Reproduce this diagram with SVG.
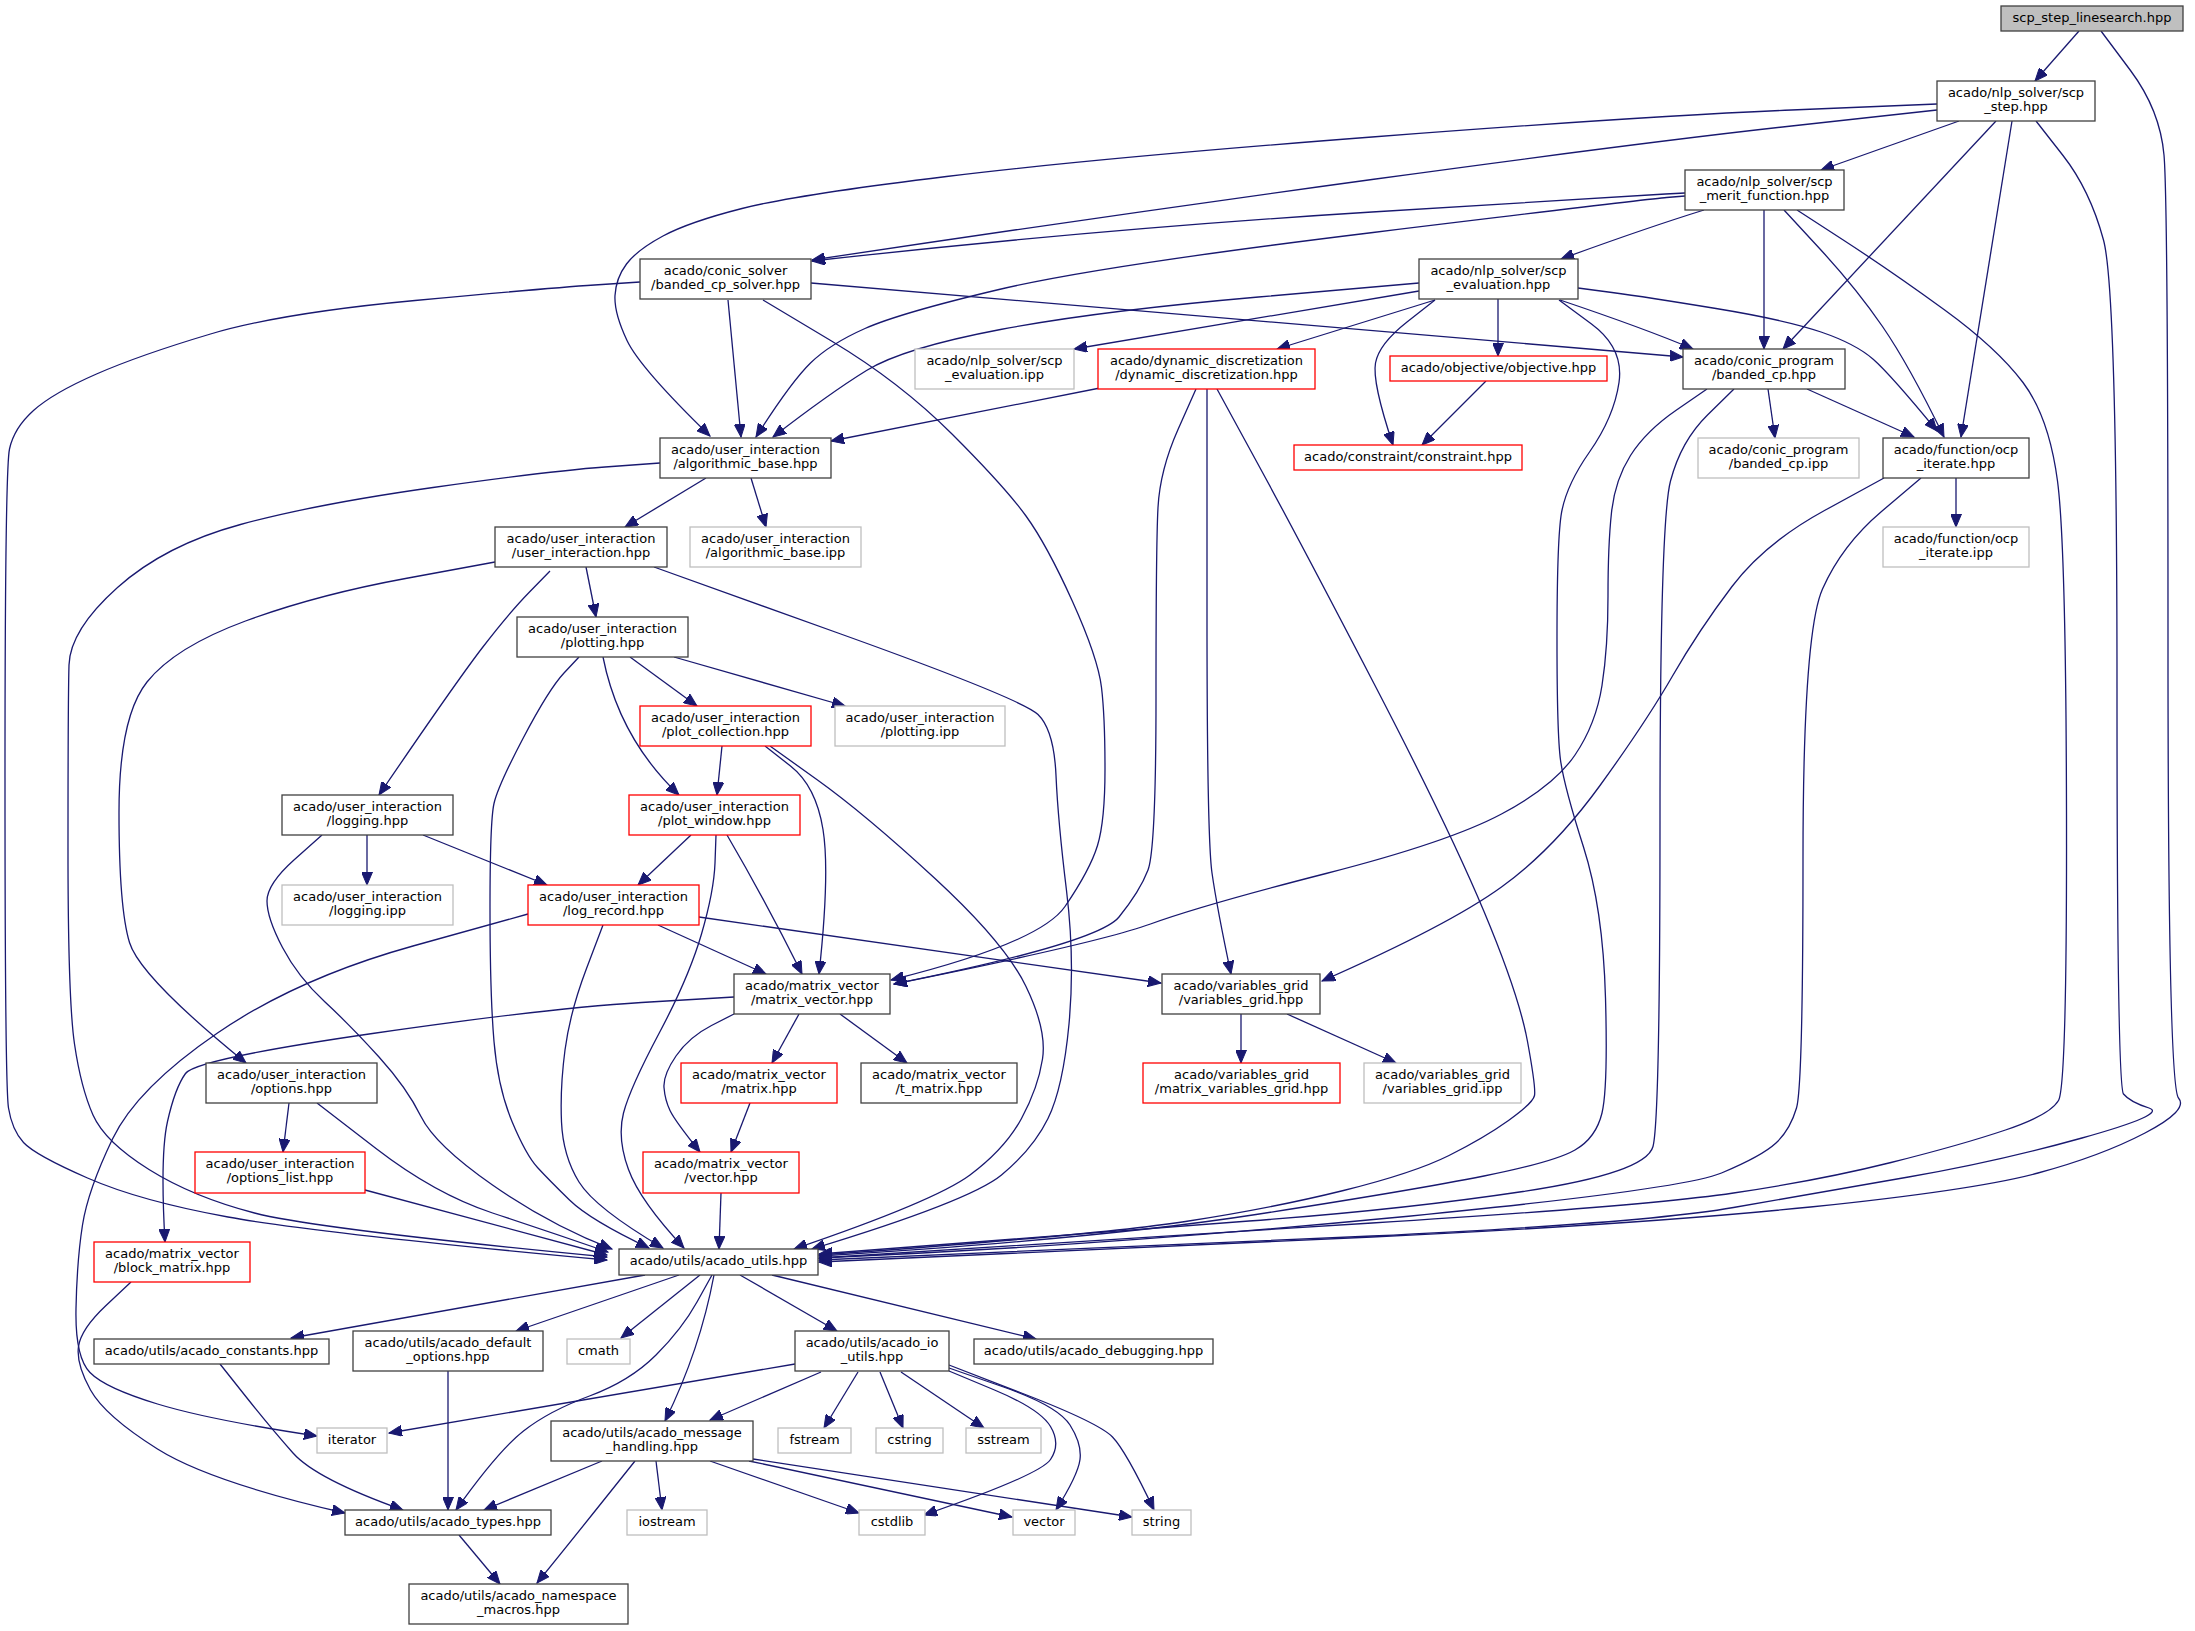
<svg xmlns="http://www.w3.org/2000/svg" width="2195" height="1631" viewBox="0 0 2195 1631">
<style>
.n rect{fill:#fff;stroke:#404040;stroke-width:1.3}
.n.r rect{stroke:#f00}
.n.g rect{stroke:#bfbfbf}
.n.root rect{fill:#bfbfbf;stroke:#404040}
text{font-family:"DejaVu Sans","Liberation Sans",sans-serif;font-size:13px;text-anchor:middle;fill:#000}
#edges path{fill:none;stroke:#191970;stroke-width:1.3;marker-end:url(#a)}
</style>
<defs>
<marker id="a" markerWidth="14" markerHeight="11" refX="13" refY="5.5" orient="auto" markerUnits="userSpaceOnUse"><path d="M0,0 L13,5.5 L0,11 z" fill="#191970" stroke="#191970" stroke-width="1"/></marker>
</defs>
<rect width="2195" height="1631" fill="#fff"/>
<g id="edges">
<path d="M2079,31 L2035,81"/>
<path d="M2101,31 L2130.5,70.5 Q2160,110 2164,155 Q2168,200 2168,643 Q2168,1086 2178.5,1098 Q2189,1110 2145,1133 Q2101,1156 2038,1173 Q1975,1190 1810.5,1207 Q1646,1224 1372,1237 Q1098,1250 819,1262"/>
<path d="M1959,121 L1821,170"/>
<path d="M1937,110 L1791.5,126 Q1646,142 1372,179.5 Q1098,217 812,260"/>
<path d="M1937,104 L1791.5,110 Q1646,116 1372,137 Q1098,158 946.5,176.5 Q795,195 742,208.5 Q689,222 663,236 Q637,250 626.5,264 Q616,278 615,295.5 Q614,313 627,340.5 Q640,368 710,436"/>
<path d="M1996,121 L1783,349"/>
<path d="M2012,121 L1961,437"/>
<path d="M2036,121 L2063,155.5 Q2090,190 2103.5,240 Q2117,290 2117,688 Q2117,1086 2123.5,1094 Q2130,1102 2149,1108 Q2168,1114 2082,1138 Q1996,1162 1908.5,1177 Q1821,1192 1733.5,1207.5 Q1646,1223 1372,1236 Q1098,1249 819,1260"/>
<path d="M1685,193 L1665.5,194 Q1646,195 1372,212 Q1098,229 812,261"/>
<path d="M1704,210 Q1646,228 1561,259"/>
<path d="M1685,196 L1666.5,197.5 Q1648,199 1373,232.5 Q1098,266 999,289.5 Q900,313 865,328.5 Q830,344 810.5,363 Q791,382 756,437"/>
<path d="M1764,210 L1764,349"/>
<path d="M1784,210 L1820,249 Q1856,288 1882.5,326.5 Q1909,365 1944,437"/>
<path d="M1797,210 L1844,240.5 Q1891,271 1944,309.5 Q1997,348 2023,382.5 Q2049,417 2057.5,481 Q2066,545 2066.5,815.5 Q2067,1086 2058.5,1100.5 Q2050,1115 2005.5,1130 Q1961,1145 1891,1162.5 Q1821,1180 1733.5,1193 Q1646,1206 1372,1223 Q1098,1240 819,1258"/>
<path d="M728,300 L741,437"/>
<path d="M811,283 L1683,357"/>
<path d="M763,300 L831.5,341 Q900,382 952.5,434.5 Q1005,487 1026,516 Q1047,545 1072.5,601.5 Q1098,658 1101.5,687.5 Q1105,717 1105,769 Q1105,821 1097.5,845.5 Q1090,870 1065,906.5 Q1040,943 891,980"/>
<path d="M640,282 L594.5,285 Q549,288 415,300.5 Q281,313 210.5,334 Q140,355 96.5,374 Q53,393 33.5,410.5 Q14,428 9.5,449 Q5,470 5,778 Q5,1086 8.5,1108 Q12,1130 23.5,1142.5 Q35,1155 87.5,1178 Q140,1201 228,1217 Q316,1233 607,1260"/>
<path d="M1419,291 L1074,349"/>
<path d="M1435,300 L1277,349"/>
<path d="M1435,300 L1407,322 Q1379,344 1375.5,363 Q1372,382 1393,445"/>
<path d="M1498,299 L1498,356"/>
<path d="M1560,300 Q1646,329 1693,349"/>
<path d="M1578,288 L1612,292.5 Q1646,297 1716,308.5 Q1786,320 1821,332 Q1856,344 1873.5,359.5 Q1891,375 1937,431"/>
<path d="M1419,283 L1258.5,297 Q1098,311 1000.5,329.5 Q903,348 866.5,370.5 Q830,393 773,437"/>
<path d="M1559,300 L1591.5,324 Q1624,348 1619,382.5 Q1614,417 1589.5,452 Q1565,487 1561,516 Q1557,545 1557,639.5 Q1557,734 1560.5,760 Q1564,786 1583.5,847 Q1603,908 1605.5,998 Q1608,1088 1602,1113 Q1596,1138 1575,1150 Q1554,1162 1484,1176 Q1414,1190 1256,1214.5 Q1098,1239 819,1256"/>
<path d="M1100,388 L831,441"/>
<path d="M1196,389 L1178,429.5 Q1160,470 1158,507.5 Q1156,545 1156,697 Q1156,849 1148,870 Q1140,891 1119,917 Q1098,943 894,984"/>
<path d="M1207,389 L1207,613.5 Q1207,838 1212,873 Q1217,908 1231,974"/>
<path d="M1217,389 L1259,466 Q1301,543 1375,685.5 Q1449,828 1484,911.5 Q1519,995 1527.5,1041.5 Q1536,1088 1534.5,1095.5 Q1533,1103 1508.5,1120.5 Q1484,1138 1449,1155.5 Q1414,1173 1343.5,1190.5 Q1273,1208 1185.5,1221.5 Q1098,1235 819,1255"/>
<path d="M1486,381 L1422,445"/>
<path d="M1768,389 L1775,438"/>
<path d="M1807,389 L1914,437"/>
<path d="M1707,389 L1676.5,410 Q1646,431 1630.5,455.5 Q1615,480 1611.5,512.5 Q1608,545 1608,596 Q1608,647 1602,685.5 Q1596,724 1575,755 Q1554,786 1501.5,814 Q1449,842 1326,873.5 Q1203,905 1150.5,924 Q1098,943 894,984"/>
<path d="M1734,389 L1707.5,415 Q1681,441 1670.5,481 Q1660,521 1660,820.5 Q1660,1120 1653,1146.5 Q1646,1173 1523,1191.5 Q1400,1210 1249,1221 Q1098,1232 819,1254"/>
<path d="M1956,478 L1956,527"/>
<path d="M1884,478 L1824.5,510.5 Q1765,543 1732,586.5 Q1699,630 1672.5,676 Q1646,722 1600,785.5 Q1554,849 1501.5,887 Q1449,925 1322,981"/>
<path d="M1921,478 L1881.5,511.5 Q1842,545 1822.5,589 Q1803,633 1803,859.5 Q1803,1086 1796.5,1108 Q1790,1130 1776,1143 Q1762,1156 1721.5,1173 Q1681,1190 1389.5,1218 Q1098,1246 819,1258"/>
<path d="M706,478 L625,527"/>
<path d="M751,478 L766,527"/>
<path d="M660,463 L605,467 Q550,471 433,487.5 Q316,504 240.5,524.5 Q165,545 117.5,587.5 Q70,630 69,665 Q68,700 68,850 Q68,1000 74.5,1044 Q81,1088 93,1115 Q105,1142 149,1169.5 Q193,1197 254.5,1213 Q316,1229 607,1257"/>
<path d="M586,567 L596,617"/>
<path d="M550,571 L529.5,592 Q509,613 482.5,647.5 Q456,682 379,795"/>
<path d="M495,562 L405.5,578.5 Q316,595 245.5,621 Q175,647 147,682 Q119,717 119,812.5 Q119,908 129.5,942.5 Q140,977 246,1063"/>
<path d="M654,567 L838,633 Q1022,699 1038,714.5 Q1054,730 1056,775.5 Q1058,821 1066.5,890.5 Q1075,960 1069,1024 Q1063,1088 1048,1118.5 Q1033,1149 1001.5,1175 Q970,1201 812,1249"/>
<path d="M630,657 L697,706"/>
<path d="M674,657 L845,706"/>
<path d="M603,657 Q619,738 679,795"/>
<path d="M579,657 L564,673 Q549,689 523.5,737.5 Q498,786 494,803.5 Q490,821 490,908 Q490,995 494,1041.5 Q498,1088 512,1121.5 Q526,1155 537.5,1167.5 Q549,1180 569.5,1200 Q590,1220 649,1248"/>
<path d="M722,746 L717,795"/>
<path d="M765,746 L790.5,766 Q816,786 823,829.5 Q830,873 819,974"/>
<path d="M770,746 L817.5,780 Q865,814 935,878.5 Q1005,943 1026,986.5 Q1047,1030 1042.5,1059 Q1038,1088 1021.5,1118.5 Q1005,1149 970,1175 Q935,1201 794,1249"/>
<path d="M367,835 L367,885"/>
<path d="M423,835 L547,885"/>
<path d="M322,835 L294.5,859.5 Q267,884 267,901 Q267,918 282.5,947.5 Q298,977 324.5,1001.5 Q351,1026 379,1057 Q407,1088 421,1116.5 Q435,1145 492.5,1185 Q550,1225 612,1249"/>
<path d="M691,835 L638,885"/>
<path d="M727,835 Q765,900 802,974"/>
<path d="M716,835 L715,863 Q714,891 701.5,934 Q689,977 659.5,1032.5 Q630,1088 623.5,1113 Q617,1138 628.5,1169.5 Q640,1201 684,1248"/>
<path d="M658,925 L766,974"/>
<path d="M699,917 L1161,983"/>
<path d="M603,925 L586.5,968.5 Q570,1012 565,1050 Q560,1088 561.5,1122 Q563,1156 579,1182 Q595,1208 663,1248"/>
<path d="M528,914 L413,946 Q298,978 217.5,1033 Q137,1088 112.5,1139 Q88,1190 82.5,1225 Q77,1260 76,1308.5 Q75,1357 90,1372.5 Q105,1388 157.5,1404 Q210,1420 317,1436"/>
<path d="M799,1014 L772,1063"/>
<path d="M840,1014 L907,1063"/>
<path d="M734,1014 L711.5,1025.5 Q689,1037 676,1056 Q663,1075 664,1087.5 Q665,1100 670,1110.5 Q675,1121 700,1152"/>
<path d="M734,997 L641.5,1002.5 Q549,1008 372.5,1033.5 Q196,1059 185.5,1073.5 Q175,1088 167.5,1121.5 Q160,1155 165,1242"/>
<path d="M1241,1014 L1241,1063"/>
<path d="M1287,1014 L1396,1063"/>
<path d="M289,1103 L283,1152"/>
<path d="M317,1103 L376,1148.5 Q435,1194 492.5,1213 Q550,1232 608,1252"/>
<path d="M750,1103 L731,1152"/>
<path d="M365,1190 L607,1255"/>
<path d="M721,1193 L719,1249"/>
<path d="M131,1282 L106,1305.5 Q81,1329 78.5,1346.5 Q76,1364 90.5,1390 Q105,1416 157.5,1449 Q210,1482 345,1513"/>
<path d="M645,1275 L291,1338"/>
<path d="M679,1275 L516,1331"/>
<path d="M700,1275 L621,1338"/>
<path d="M714,1275 Q700,1350 665,1421"/>
<path d="M712,1275 L697,1302 Q682,1329 656,1355 Q630,1381 589.5,1396 Q549,1411 523.5,1431 Q498,1451 456,1510"/>
<path d="M740,1275 L837,1331"/>
<path d="M772,1275 L1036,1339"/>
<path d="M220,1364 L245,1395.5 Q270,1427 293,1453 Q316,1479 403,1510"/>
<path d="M448,1371 L448,1510"/>
<path d="M795,1364 L389,1433"/>
<path d="M821,1372 L710,1420"/>
<path d="M858,1372 L824,1428"/>
<path d="M880,1372 L903,1428"/>
<path d="M901,1372 L984,1428"/>
<path d="M949,1371 L994.5,1390 Q1040,1409 1050.5,1426.5 Q1061,1444 1050.5,1459.5 Q1040,1475 924,1515"/>
<path d="M949,1368 L1003.5,1387 Q1058,1406 1070,1425 Q1082,1444 1080,1459.5 Q1078,1475 1056,1510"/>
<path d="M949,1365 L1024,1394 Q1099,1423 1112.5,1437 Q1126,1451 1154,1510"/>
<path d="M602,1461 L484,1510"/>
<path d="M635,1461 Q560,1555 537,1583"/>
<path d="M656,1461 L662,1510"/>
<path d="M710,1461 L859,1513"/>
<path d="M749,1461 L1012,1517"/>
<path d="M753,1459 L1132,1517"/>
<path d="M459,1535 L500,1584"/>
</g>
<g id="n1" class="n root"><rect x="2001" y="6" width="182" height="25"/><text x="2092" y="21.5">scp_step_linesearch.hpp</text></g>
<g id="n2" class="n"><rect x="1937" y="81" width="158" height="40"/><text x="2016" y="96.5">acado/nlp_solver/scp</text><text x="2016" y="110.5">_step.hpp</text></g>
<g id="n3" class="n"><rect x="1685" y="170" width="159" height="40"/><text x="1764.5" y="185.5">acado/nlp_solver/scp</text><text x="1764.5" y="199.5">_merit_function.hpp</text></g>
<g id="n4" class="n"><rect x="640" y="259" width="171" height="40"/><text x="725.5" y="274.5">acado/conic_solver</text><text x="725.5" y="288.5">/banded_cp_solver.hpp</text></g>
<g id="n5" class="n"><rect x="1419" y="259" width="159" height="40"/><text x="1498.5" y="274.5">acado/nlp_solver/scp</text><text x="1498.5" y="288.5">_evaluation.hpp</text></g>
<g id="n6" class="n g"><rect x="915" y="349" width="159" height="40"/><text x="994.5" y="364.5">acado/nlp_solver/scp</text><text x="994.5" y="378.5">_evaluation.ipp</text></g>
<g id="n7" class="n r"><rect x="1098" y="349" width="217" height="40"/><text x="1206.5" y="364.5">acado/dynamic_discretization</text><text x="1206.5" y="378.5">/dynamic_discretization.hpp</text></g>
<g id="n8" class="n r"><rect x="1390" y="356" width="217" height="25"/><text x="1498.5" y="371.5">acado/objective/objective.hpp</text></g>
<g id="n9" class="n"><rect x="1683" y="349" width="162" height="40"/><text x="1764" y="364.5">acado/conic_program</text><text x="1764" y="378.5">/banded_cp.hpp</text></g>
<g id="n10" class="n"><rect x="660" y="438" width="171" height="40"/><text x="745.5" y="453.5">acado/user_interaction</text><text x="745.5" y="467.5">/algorithmic_base.hpp</text></g>
<g id="n11" class="n r"><rect x="1294" y="445" width="228" height="25"/><text x="1408" y="460.5">acado/constraint/constraint.hpp</text></g>
<g id="n12" class="n g"><rect x="1698" y="438" width="161" height="40"/><text x="1778.5" y="453.5">acado/conic_program</text><text x="1778.5" y="467.5">/banded_cp.ipp</text></g>
<g id="n13" class="n"><rect x="1883" y="438" width="146" height="40"/><text x="1956" y="453.5">acado/function/ocp</text><text x="1956" y="467.5">_iterate.hpp</text></g>
<g id="n14" class="n"><rect x="495" y="527" width="172" height="40"/><text x="581" y="542.5">acado/user_interaction</text><text x="581" y="556.5">/user_interaction.hpp</text></g>
<g id="n15" class="n g"><rect x="690" y="527" width="171" height="40"/><text x="775.5" y="542.5">acado/user_interaction</text><text x="775.5" y="556.5">/algorithmic_base.ipp</text></g>
<g id="n16" class="n g"><rect x="1883" y="527" width="146" height="40"/><text x="1956" y="542.5">acado/function/ocp</text><text x="1956" y="556.5">_iterate.ipp</text></g>
<g id="n17" class="n"><rect x="517" y="617" width="171" height="40"/><text x="602.5" y="632.5">acado/user_interaction</text><text x="602.5" y="646.5">/plotting.hpp</text></g>
<g id="n18" class="n r"><rect x="640" y="706" width="171" height="40"/><text x="725.5" y="721.5">acado/user_interaction</text><text x="725.5" y="735.5">/plot_collection.hpp</text></g>
<g id="n19" class="n g"><rect x="835" y="706" width="170" height="40"/><text x="920" y="721.5">acado/user_interaction</text><text x="920" y="735.5">/plotting.ipp</text></g>
<g id="n20" class="n"><rect x="282" y="795" width="171" height="40"/><text x="367.5" y="810.5">acado/user_interaction</text><text x="367.5" y="824.5">/logging.hpp</text></g>
<g id="n21" class="n r"><rect x="629" y="795" width="171" height="40"/><text x="714.5" y="810.5">acado/user_interaction</text><text x="714.5" y="824.5">/plot_window.hpp</text></g>
<g id="n22" class="n g"><rect x="282" y="885" width="171" height="40"/><text x="367.5" y="900.5">acado/user_interaction</text><text x="367.5" y="914.5">/logging.ipp</text></g>
<g id="n23" class="n r"><rect x="528" y="885" width="171" height="40"/><text x="613.5" y="900.5">acado/user_interaction</text><text x="613.5" y="914.5">/log_record.hpp</text></g>
<g id="n24" class="n"><rect x="734" y="974" width="156" height="40"/><text x="812" y="989.5">acado/matrix_vector</text><text x="812" y="1003.5">/matrix_vector.hpp</text></g>
<g id="n25" class="n"><rect x="1162" y="974" width="158" height="40"/><text x="1241" y="989.5">acado/variables_grid</text><text x="1241" y="1003.5">/variables_grid.hpp</text></g>
<g id="n26" class="n"><rect x="206" y="1063" width="171" height="40"/><text x="291.5" y="1078.5">acado/user_interaction</text><text x="291.5" y="1092.5">/options.hpp</text></g>
<g id="n27" class="n r"><rect x="681" y="1063" width="156" height="40"/><text x="759" y="1078.5">acado/matrix_vector</text><text x="759" y="1092.5">/matrix.hpp</text></g>
<g id="n28" class="n"><rect x="861" y="1063" width="156" height="40"/><text x="939" y="1078.5">acado/matrix_vector</text><text x="939" y="1092.5">/t_matrix.hpp</text></g>
<g id="n29" class="n r"><rect x="1143" y="1063" width="197" height="40"/><text x="1241.5" y="1078.5">acado/variables_grid</text><text x="1241.5" y="1092.5">/matrix_variables_grid.hpp</text></g>
<g id="n30" class="n g"><rect x="1364" y="1063" width="157" height="40"/><text x="1442.5" y="1078.5">acado/variables_grid</text><text x="1442.5" y="1092.5">/variables_grid.ipp</text></g>
<g id="n31" class="n r"><rect x="195" y="1152" width="170" height="41"/><text x="280" y="1167.5">acado/user_interaction</text><text x="280" y="1181.5">/options_list.hpp</text></g>
<g id="n32" class="n r"><rect x="643" y="1152" width="156" height="41"/><text x="721" y="1167.5">acado/matrix_vector</text><text x="721" y="1181.5">/vector.hpp</text></g>
<g id="n33" class="n r"><rect x="94" y="1242" width="156" height="40"/><text x="172" y="1257.5">acado/matrix_vector</text><text x="172" y="1271.5">/block_matrix.hpp</text></g>
<g id="n34" class="n"><rect x="619" y="1249" width="199" height="26"/><text x="718.5" y="1265">acado/utils/acado_utils.hpp</text></g>
<g id="n35" class="n"><rect x="94" y="1339" width="235" height="25"/><text x="211.5" y="1354.5">acado/utils/acado_constants.hpp</text></g>
<g id="n36" class="n"><rect x="353" y="1331" width="190" height="40"/><text x="448" y="1346.5">acado/utils/acado_default</text><text x="448" y="1360.5">_options.hpp</text></g>
<g id="n37" class="n g"><rect x="567" y="1339" width="63" height="25"/><text x="598.5" y="1354.5">cmath</text></g>
<g id="n38" class="n"><rect x="795" y="1331" width="154" height="40"/><text x="872" y="1346.5">acado/utils/acado_io</text><text x="872" y="1360.5">_utils.hpp</text></g>
<g id="n39" class="n"><rect x="974" y="1339" width="239" height="25"/><text x="1093.5" y="1354.5">acado/utils/acado_debugging.hpp</text></g>
<g id="n40" class="n g"><rect x="317" y="1428" width="70" height="25"/><text x="352" y="1443.5">iterator</text></g>
<g id="n41" class="n"><rect x="551" y="1421" width="202" height="40"/><text x="652" y="1436.5">acado/utils/acado_message</text><text x="652" y="1450.5">_handling.hpp</text></g>
<g id="n42" class="n g"><rect x="778" y="1428" width="73" height="25"/><text x="814.5" y="1443.5">fstream</text></g>
<g id="n43" class="n g"><rect x="876" y="1428" width="67" height="25"/><text x="909.5" y="1443.5">cstring</text></g>
<g id="n44" class="n g"><rect x="966" y="1428" width="75" height="25"/><text x="1003.5" y="1443.5">sstream</text></g>
<g id="n45" class="n"><rect x="345" y="1510" width="206" height="25"/><text x="448" y="1525.5">acado/utils/acado_types.hpp</text></g>
<g id="n46" class="n g"><rect x="627" y="1510" width="80" height="25"/><text x="667" y="1525.5">iostream</text></g>
<g id="n47" class="n g"><rect x="859" y="1510" width="66" height="25"/><text x="892" y="1525.5">cstdlib</text></g>
<g id="n48" class="n g"><rect x="1013" y="1510" width="62" height="25"/><text x="1044" y="1525.5">vector</text></g>
<g id="n49" class="n g"><rect x="1132" y="1510" width="59" height="25"/><text x="1161.5" y="1525.5">string</text></g>
<g id="n50" class="n"><rect x="409" y="1584" width="219" height="40"/><text x="518.5" y="1599.5">acado/utils/acado_namespace</text><text x="518.5" y="1613.5">_macros.hpp</text></g>
</svg>
